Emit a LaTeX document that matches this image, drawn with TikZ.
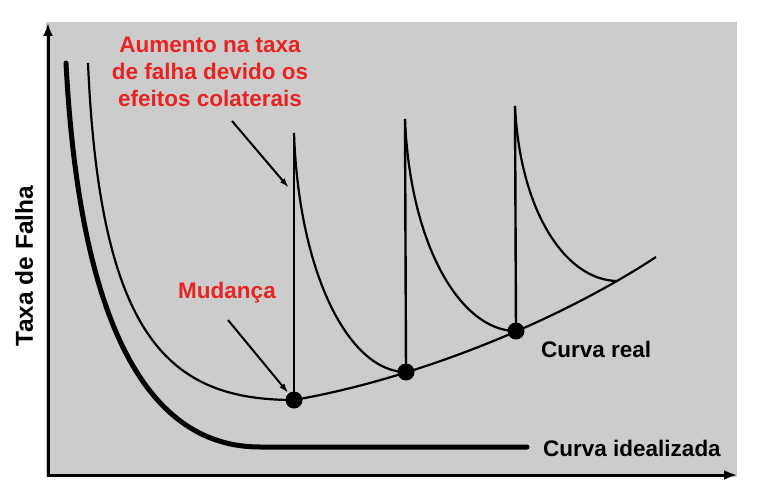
\documentclass[tikz,border=0pt]{standalone}
\usepackage{fontspec}
\setmainfont{Liberation Sans}
\usepackage{xcolor}
\usetikzlibrary{arrows.meta,positioning}
\definecolor{bggray}{RGB}{204,204,204}
\definecolor{notered}{RGB}{232,36,34}
\tikzset{>={Latex[length=13pt,width=10pt]}}

\begin{document}
\begin{tikzpicture}[x=1pt, y=-1pt,
    axisline/.style={line width=3pt},
    ideal/.style={line width=5pt, line cap=round},
    real/.style={line width=2.2pt},
    spike/.style={line width=2.4pt},
    dotnode/.style={circle, fill=black, inner sep=0pt, minimum size=17pt},
    note/.style={text=notered, font=\bfseries\fontsize{22.5}{27}\selectfont, align=center, inner sep=0pt},
    curvelabel/.style={font=\bfseries\fontsize{22.5}{27}\selectfont, inner sep=0pt},
    pointer/.style={line width=2pt, -{Latex[length=10pt,width=6pt]}}]
      \useasboundingbox (0,0) rectangle (778,489);
      \fill[bggray] (46,22) rectangle (737,477);
      % axes
      \coordinate (o) at (48,475);
      \draw[axisline, <->] (48,23) -- (o) -- (737,475);
      % points of change and tops of the spikes
      \coordinate (c1) at (294,400);
      \coordinate (c2) at (406,372);
      \coordinate (c3) at (516,331);
      \coordinate (t1) at (294,133);
      \coordinate (t2) at (405,119);
      \coordinate (t3) at (515,106);
      \coordinate (j3) at (618,281);
      \coordinate (e) at (656,257);
      % idealized curve
      \draw[ideal] (66,63) .. controls (80,330) and (150,447) .. (260,447) -- (527,447);
      % real curve
      \draw[real] (88,63) .. controls (100,340) and (170,400) .. (c1);
      \draw[real] (c1) .. controls (420,378) and (560,320) .. (e);
      \draw[spike] (c1) -- (t1);
      \draw[spike] (c2) -- (t2);
      \draw[spike] (c3) -- (t3);
      \draw[real] (t1) .. controls +(5,143) and +(-56,0) .. (c2);
      \draw[real] (t2) .. controls +(5,127) and +(-55,0) .. (c3);
      \draw[real] (t3) .. controls +(5,106) and +(-52,0) .. (j3);
      \node[dotnode] (d1) at (c1) {};
      \node[dotnode] (d2) at (c2) {};
      \node[dotnode] (d3) at (c3) {};
      % labels
      \node[note] (rise) at (210,72) {Aumento na taxa\\de falha devido os\\efeitos colaterais};
      \node[note] (change) at (227,293) {Mudança};
      \node[curvelabel, anchor=west] (realtxt) at (541,349) {Curva real};
      \node[curvelabel, anchor=west] (idealtxt) at (543,448) {Curva idealizada};
      \node[curvelabel, font=\bfseries\fontsize{24.5}{29}\selectfont, rotate=90] (ylab) at (24,266) {Taxa de Falha};
      % pointers
      \coordinate (rise tail) at (232,121);
      \coordinate (rise head) at (289,188);
      \coordinate (change tail) at (228,320);
      \draw[pointer] (rise tail) -- (rise head);
      \draw[pointer] (change tail) -- (d1);
    \end{tikzpicture}
\end{document}
